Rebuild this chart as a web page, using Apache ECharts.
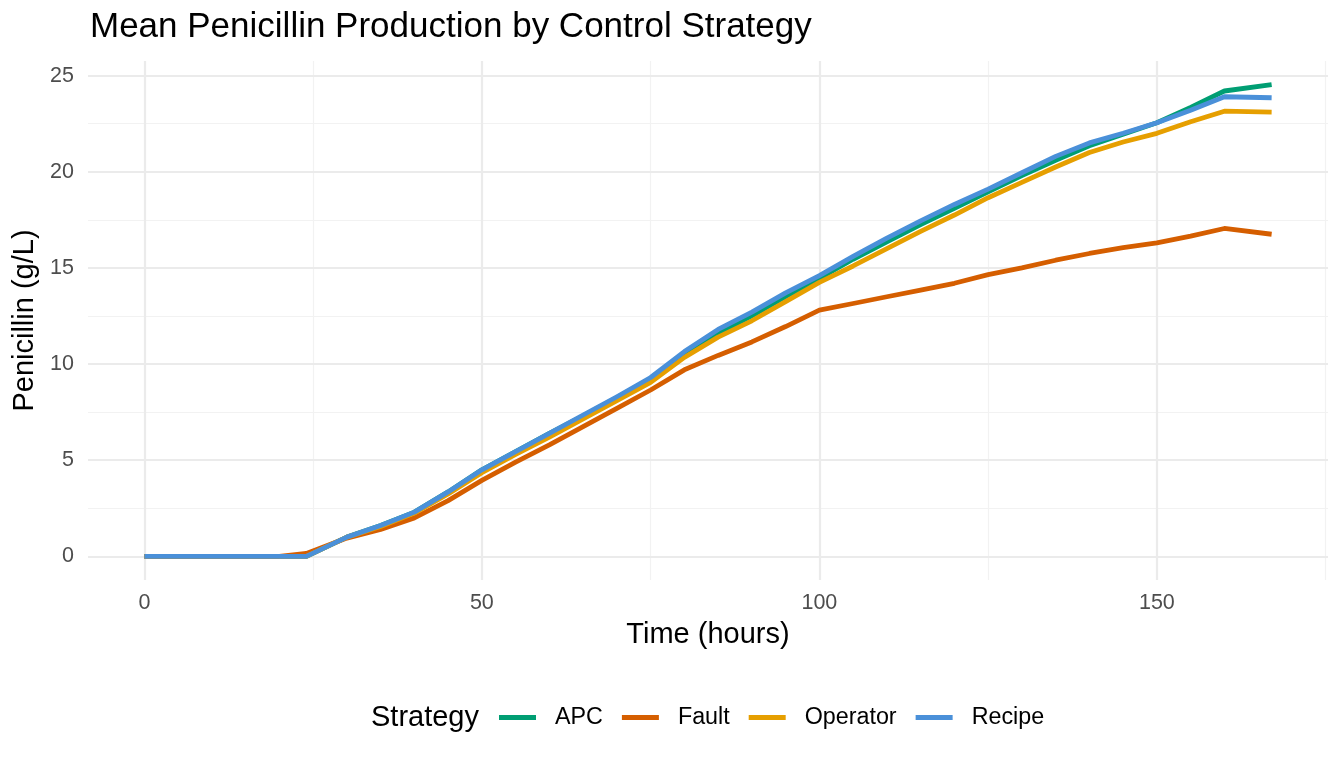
<!DOCTYPE html>
<html><head><meta charset="utf-8">
<script src="https://cdn.jsdelivr.net/npm/echarts@6/dist/echarts.min.js"></script>
<style>html,body{margin:0;padding:0;background:#fff}#c{width:1344px;height:768px}</style>
</head><body><div id="c"></div>
<script>
const hours = [0,5,10,15,20,24,30,35,40,45,50,55,60,65,70,75,80,85,90,95,100,105,110,115,120,125,130,135,140,145,150,155,160,167];
const apc = [0,0,0,0,0,0,1.0,1.6,2.3,3.35,4.5,5.45,6.4,7.3,8.25,9.25,10.5,11.6,12.5,13.5,14.45,15.45,16.35,17.25,18.1,18.95,19.8,20.6,21.35,21.95,22.55,23.35,24.2,24.53];
const fault = [0,0,0,0,0,0.15,0.95,1.4,2.0,2.9,3.95,4.9,5.8,6.75,7.7,8.65,9.7,10.45,11.15,11.95,12.8,13.15,13.5,13.85,14.2,14.65,15.0,15.4,15.75,16.05,16.3,16.65,17.05,16.75];
const operator = [0,0,0,0,0,0,1.0,1.55,2.25,3.25,4.35,5.3,6.2,7.15,8.1,9.05,10.35,11.4,12.25,13.25,14.25,15.1,16.0,16.9,17.75,18.65,19.45,20.25,21.0,21.55,22.0,22.6,23.15,23.1];
const recipe = [0,0,0,0,0,0,1.0,1.6,2.3,3.35,4.5,5.45,6.4,7.35,8.3,9.3,10.65,11.8,12.7,13.7,14.6,15.6,16.55,17.45,18.3,19.1,19.95,20.8,21.5,22.0,22.55,23.2,23.9,23.85];
const strategies = ['APC','Fault','Operator','Recipe'];
const colors = ['#009E73','#D55E00','#E69F00','#4A90D9'];
const xMajor = [0,50,100,150];
const xMinor = [25,75,125,175];
const yMajor = [0,5,10,15,20,25];
const yMinor = [2.5,7.5,12.5,17.5,22.5];

const seriesData = [apc, fault, operator, recipe];
const chart = echarts.init(document.getElementById('c'));
const gridLines = [];
xMinor.forEach(v=>gridLines.push({xAxis:v, lineStyle:{color:'#f2f2f2',width:1.2,type:'solid'}}));
yMinor.forEach(v=>gridLines.push({yAxis:v, lineStyle:{color:'#f2f2f2',width:1.2,type:'solid'}}));
xMajor.forEach(v=>gridLines.push({xAxis:v, lineStyle:{color:'#ebebeb',width:2.2,type:'solid'}}));
yMajor.forEach(v=>gridLines.push({yAxis:v, lineStyle:{color:'#ebebeb',width:2.2,type:'solid'}}));

const series = [{
  type:'line', data:[], silent:true, z:1, zlevel:0,
  markLine:{silent:true, symbol:['none','none'], label:{show:false}, animation:false, data:gridLines}
}];
strategies.forEach((s,i)=>{
  series.push({
    name:s, type:'line', showSymbol:false, symbol:'none', z:2+i, zlevel:1,
    data: hours.map((h,j)=>[h, seriesData[i][j]]),
    lineStyle:{color:colors[i], width:4.8, join:'round', cap:'butt'},
    itemStyle:{color:colors[i]}
  });
});

const FF = 'Liberation Sans';
chart.setOption({
  animation:false,
  backgroundColor:'#fff',
  title:{text:'Mean Penicillin Production by Control Strategy', left:85, top:5,
    textStyle:{fontFamily:FF, fontSize:35, fontWeight:'normal', color:'#000'}},
  grid:{left:88, right:16, top:61, bottom:188, containLabel:false},
  xAxis:{type:'value', min:-8.35, max:175.35,
    name:'Time (hours)', nameLocation:'middle', nameGap:40,
    nameTextStyle:{fontFamily:FF, fontSize:29, color:'#000'},
    axisLine:{show:false}, axisTick:{show:false}, splitLine:{show:false},
    axisLabel:{customValues:xMajor, fontFamily:FF, fontSize:21.5, color:'#4d4d4d', margin:12, showMinLabel:true, showMaxLabel:true}},
  yAxis:{type:'value', min:-1.23, max:25.76,
    name:'Penicillin (g/L)', nameLocation:'middle', nameGap:42, nameRotate:90,
    nameTextStyle:{fontFamily:FF, fontSize:29, color:'#000'},
    axisLine:{show:false}, axisTick:{show:false}, splitLine:{show:false},
    axisLabel:{customValues:yMajor, fontFamily:FF, fontSize:21.5, color:'#4d4d4d', margin:14}},
  legend:{data:strategies, top:706, left:499, padding:0, icon:'rect', itemWidth:37, itemHeight:5, itemGap:19,
    textStyle:{fontFamily:FF, fontSize:23.3, color:'#000', padding:[0,0,0,14]}},
  graphic:[{type:'text', left:371, top:703, style:{text:'Strategy', font:'29px "Liberation Sans"', fill:'#000'}}],
  series:series
});
</script></body></html>
